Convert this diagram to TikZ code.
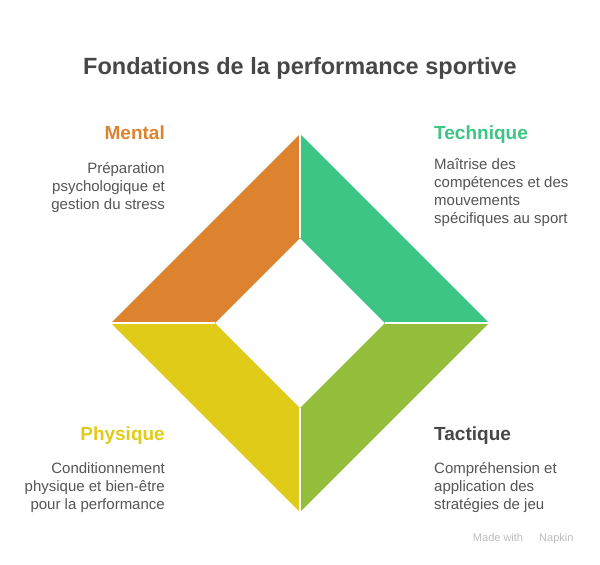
\documentclass[tikz,border=0pt]{standalone}
\usepackage{fontspec}
\setmainfont{Liberation Sans}
\definecolor{cMental}{HTML}{DD8330}
\definecolor{cTech}{HTML}{3CC584}
\definecolor{cTact}{HTML}{93BD3A}
\definecolor{cPhys}{HTML}{E0CC18}
\definecolor{cText}{HTML}{555555}
\definecolor{cDark}{HTML}{474747}
\definecolor{cMark}{HTML}{BDBDBD}
\tikzset{
  quad/.style={draw=white, line width=2pt, line join=miter},
  head/.style={font=\bfseries\fontsize{19}{23}\selectfont, inner sep=0pt},
  desc/.style={font=\fontsize{15}{18}\selectfont, text=cText, inner sep=0pt},
}
\begin{document}
\begin{tikzpicture}[x=1pt,y=-1pt]
\useasboundingbox[fill=white] (0,0) rectangle (600,565);
% outer and inner diamond corners
\coordinate (OT) at (300,134);
\coordinate (OR) at (489,323);
\coordinate (OB) at (300,512);
\coordinate (OL) at (111,323);
\coordinate (IT) at (300,238);
\coordinate (IR) at (385,323);
\coordinate (IB) at (300,408);
\coordinate (IL) at (215,323);
\fill[cMental] (OT) -- (OL) -- (IL) -- (IT) -- cycle;
\fill[cTech] (OT) -- (OR) -- (IR) -- (IT) -- cycle;
\fill[cTact] (OR) -- (OB) -- (IB) -- (IR) -- cycle;
\fill[cPhys] (OB) -- (OL) -- (IL) -- (IB) -- cycle;
\draw[white, line width=2pt] (OT) -- (IT) (OR) -- (IR) (OB) -- (IB) (OL) -- (IL);

\node[font=\bfseries\fontsize{23.5}{27}\selectfont, text=cDark, anchor=base] (title) at (300,74) {Fondations de la performance sportive};

\node[head, text=cMental, anchor=base east] (hM) at (165,139) {Mental};
\node[desc, align=right, anchor=north east] (dM) at (165,162) {Préparation\\psychologique et\\gestion du stress};

\node[head, text=cTech, anchor=base west] (hT) at (434,139) {Technique};
\node[desc, align=left, anchor=north west] (dT) at (434,158) {Maîtrise des\\compétences et des\\mouvements\\spécifiques au sport};

\node[head, text=cPhys, anchor=base east] (hP) at (165,440) {Physique};
\node[desc, align=right, anchor=north east] (dP) at (165,462) {Conditionnement\\physique et bien-être\\pour la performance};

\node[head, text=cDark, anchor=base west] (hTa) at (434,440) {Tactique};
\node[desc, align=left, anchor=north west] (dTa) at (434,462) {Compréhension et\\application des\\stratégies de jeu};

\node[font=\fontsize{11}{13}\selectfont, text=cMark, anchor=base east] (mark) at (577,541) {Made with \hspace{10pt} Napkin};
\end{tikzpicture}
\end{document}
